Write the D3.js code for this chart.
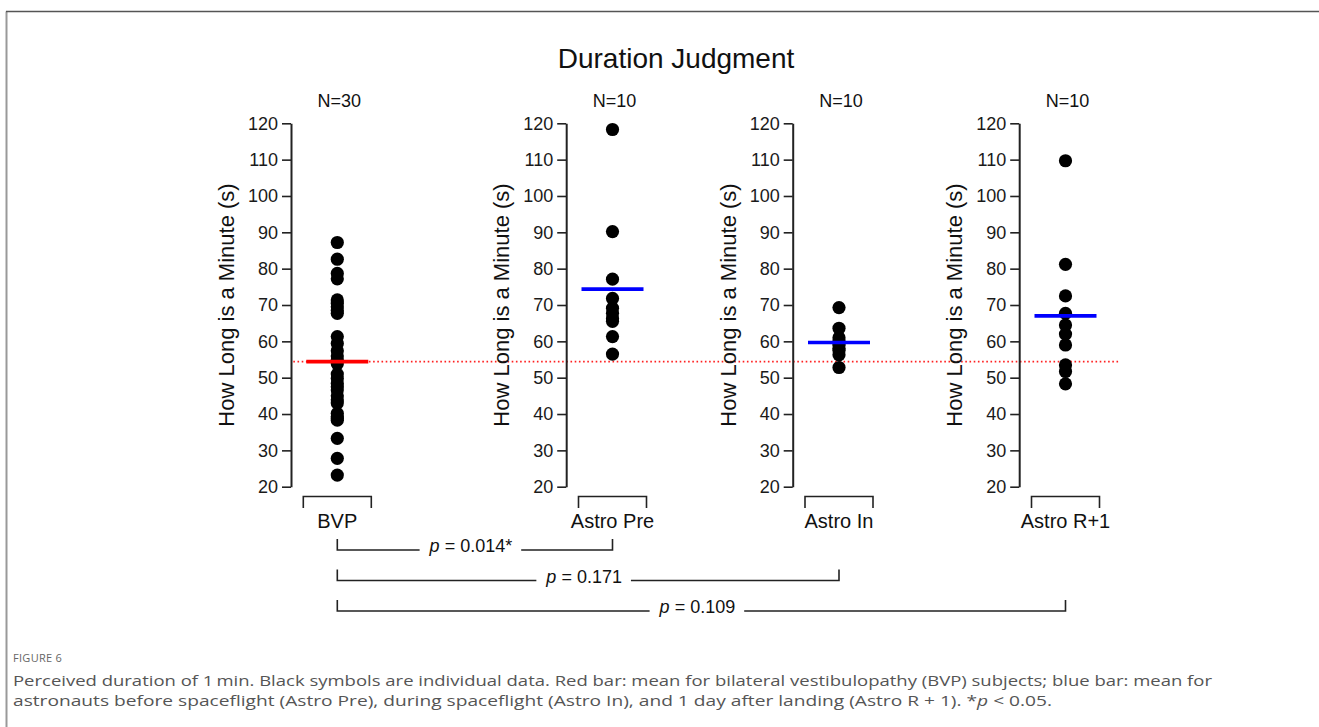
<!DOCTYPE html>
<html>
<head>
<meta charset="utf-8">
<script src="https://cdn.jsdelivr.net/npm/d3@7"></script>
<style>
  html, body { margin: 0; padding: 0; background: #fff; }
  svg { display: block; }
</style>
</head>
<body>
<svg id="chart" width="1319" height="727"></svg>
<script>
// ---------------- DATA ----------------
const categories = ["BVP", "Astro Pre", "Astro In", "Astro R+1"];
const nLabels = ["N=30", "N=10", "N=10", "N=10"];
const meanColors = ["#ff0000", "#0000ff", "#0000ff", "#0000ff"];

const bvpValues = [87.2, 82.6, 78.7, 77.2, 71.4, 70.5, 69.5, 68.5, 67.7, 61.3,
                   59.4, 57.4, 56.0, 54.9, 53.8, 51.0, 49.8, 48.4, 47.5, 46.6,
                   45.0, 43.9, 43.0, 40.2, 39.3, 38.9, 38.3, 33.3, 27.8, 23.2];
const astroPreValues = [118.3, 90.2, 77.1, 71.8, 69.1, 67.7, 66.3, 65.5, 61.3, 56.5];
const astroInValues = [69.3, 63.6, 61.0, 60.0, 59.5, 59.0, 58.0, 57.5, 56.3, 52.8];
const astroR1Values = [109.7, 81.2, 72.5, 67.7, 64.5, 62.0, 59.0, 53.5, 51.7, 48.3];
const groupValues = [bvpValues, astroPreValues, astroInValues, astroR1Values];

const yTicks = [20, 30, 40, 50, 60, 70, 80, 90, 100, 110, 120];
const yDomain = [20, 120];

const comparisons = [["BVP", "Astro Pre"], ["BVP", "Astro In"], ["BVP", "Astro R+1"]];
const pValues = ["0.014*", "0.171", "0.109"];

const titleText = "Duration Judgment";
const yLabelText = "How Long is a Minute (s)";
const figLabel = "FIGURE 6";

// ---------------- LAYOUT ----------------
const svg = d3.select("#chart");
const W = 1319, H = 727;
const font = "'Liberation Sans', Arial, Helvetica, sans-serif";

// frame
svg.append("path").attr("d", `M6.5,${H} L6.5,11.5`).attr("stroke", "#999").attr("stroke-width", 2).attr("fill", "none");
svg.append("path").attr("d", `M6,11.5 L${W},11.5`).attr("stroke", "#555").attr("stroke-width", 1.5).attr("fill", "none");

// group centers: first group separated by extra gap
const firstCenter = 337.3, step = 226.5, extraGap = 48.7;
const centers = categories.map((c, i) => firstCenter + i * step + (i > 0 ? extraGap : 0));
const x = d3.scaleOrdinal().domain(categories).range(centers);
const axisOffset = 46.3;

const y = d3.scaleLinear().domain(yDomain).range([486.7, 123.3]);

// title
svg.append("text").attr("x", 676).attr("y", 68).attr("text-anchor", "middle")
  .attr("font-family", font).attr("font-size", 28).attr("fill", "#111").text(titleText);

// red dotted reference line (BVP mean)
const bvpMean = d3.mean(bvpValues);
svg.append("line")
  .attr("x1", x("BVP") - 44).attr("x2", x("Astro R+1") + 53)
  .attr("y1", y(bvpMean)).attr("y2", y(bvpMean))
  .attr("stroke", "#ff2020").attr("stroke-width", 1.6).attr("stroke-dasharray", "1.6,2.6");

categories.forEach((cat, i) => {
  const cx = x(cat);
  const ax = cx - axisOffset;
  const g = svg.append("g");

  // axis
  const axis = d3.axisLeft(y).tickValues(yTicks).tickSize(9).tickSizeOuter(0).tickPadding(4);
  const ag = g.append("g").attr("transform", `translate(${ax},0)`).call(axis);
  ag.select(".domain").attr("stroke", "#222").attr("stroke-width", 2);
  ag.selectAll(".tick line").attr("stroke", "#222").attr("stroke-width", 1.6);
  ag.selectAll(".tick text").attr("font-family", font).attr("font-size", 18).attr("fill", "#1a1a1a");

  // y label
  g.append("text")
    .attr("transform", `translate(${ax - 63},${(y(yDomain[0]) + y(yDomain[1])) / 2}) rotate(-90)`)
    .attr("text-anchor", "middle").attr("dominant-baseline", "middle")
    .attr("font-family", font).attr("font-size", 22).attr("fill", "#111").text(yLabelText);

  // N label
  g.append("text").attr("x", cx + 2).attr("y", 107).attr("text-anchor", "middle")
    .attr("font-family", font).attr("font-size", 18).attr("fill", "#111").text(nLabels[i]);

  // dots
  g.selectAll("circle.dot").data(groupValues[i]).join("circle")
    .attr("class", "dot").attr("cx", cx).attr("cy", d => y(d)).attr("r", 6.6).attr("fill", "#000");

  // mean bar
  const m = d3.mean(groupValues[i]);
  g.append("line").attr("x1", cx - 31).attr("x2", cx + 31).attr("y1", y(m)).attr("y2", y(m))
    .attr("stroke", meanColors[i]).attr("stroke-width", 3.6);

  // category bracket
  g.append("path")
    .attr("d", `M${cx - 34},508 L${cx - 34},496.5 L${cx + 34},496.5 L${cx + 34},508`)
    .attr("fill", "none").attr("stroke", "#222").attr("stroke-width", 1.6);
  g.append("text").attr("x", cx).attr("y", 528).attr("text-anchor", "middle")
    .attr("font-family", font).attr("font-size", 20).attr("fill", "#111").text(cat);
});

// p-value brackets
const rowY = [550, 580.5, 611];
comparisons.forEach((pair, k) => {
  const x1 = x(pair[0]), x2 = x(pair[1]);
  const ly = rowY[k];
  const mid = (x1 + x2) / 2 - 4;
  const t = svg.append("text").attr("x", mid).attr("y", ly + 2).attr("text-anchor", "middle")
    .attr("font-family", font).attr("font-size", 18).attr("fill", "#111");
  t.append("tspan").attr("font-style", "italic").text("p");
  t.append("tspan").text(" = " + pValues[k]);
  const bb = t.node().getBBox();
  svg.append("path")
    .attr("d", `M${x1},${ly - 11} L${x1},${ly} L${bb.x - 9},${ly}`)
    .attr("fill", "none").attr("stroke", "#222").attr("stroke-width", 1.6);
  svg.append("path")
    .attr("d", `M${bb.x + bb.width + 9},${ly} L${x2},${ly} L${x2},${ly - 11}`)
    .attr("fill", "none").attr("stroke", "#222").attr("stroke-width", 1.6);
});

// caption
const capFont = "'Open Sans', 'Noto Sans', sans-serif";
svg.append("text").attr("x", 13).attr("y", 662).attr("font-family", capFont)
  .attr("font-size", 11).attr("fill", "#666").attr("letter-spacing", 0.3).text(figLabel);

const cap1 = svg.append("text").attr("x", 13).attr("y", 686).attr("font-family", capFont)
  .attr("font-size", 15).attr("fill", "#555")
  .attr("textLength", 1199).attr("lengthAdjust", "spacingAndGlyphs");
cap1.text("Perceived duration of 1\u2009min. Black symbols are individual data. Red bar: mean for bilateral vestibulopathy (BVP) subjects; blue bar: mean for");

const cap2 = svg.append("text").attr("x", 13).attr("y", 706).attr("font-family", capFont)
  .attr("font-size", 15).attr("fill", "#555")
  .attr("textLength", 1039).attr("lengthAdjust", "spacingAndGlyphs");
cap2.append("tspan").text("astronauts before spaceflight (Astro Pre), during spaceflight (Astro In), and 1 day after landing (Astro R + 1). *");
cap2.append("tspan").attr("font-style", "italic").text("p");
cap2.append("tspan").text(" < 0.05.");
</script>
</body>
</html>
